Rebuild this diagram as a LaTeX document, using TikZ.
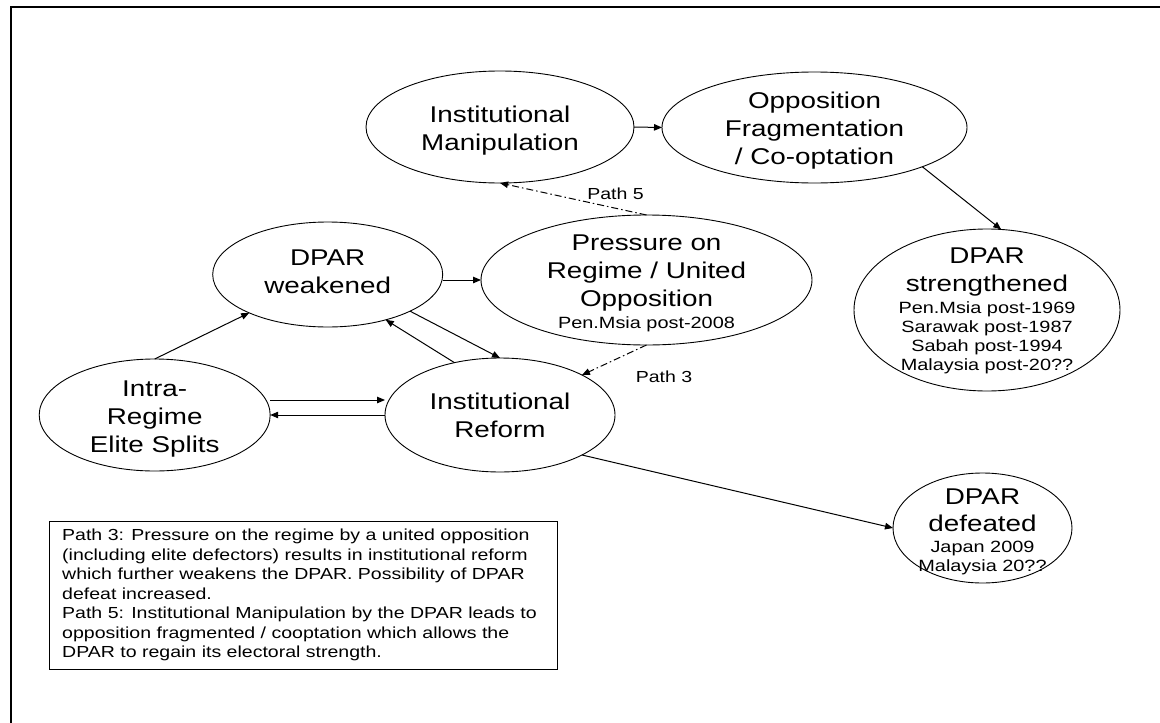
\documentclass[tikz,border=0pt]{standalone}
\usepackage{fontspec}
\setmainfont{Liberation Sans}
\usetikzlibrary{arrows.meta,shapes.geometric}
% horizontally widened lettering
\newcommand\sx[1]{\scalebox{1.22}[1]{#1}}
\newcommand\dgBig{\fontsize{22.8}{28}\selectfont}
\newcommand\dgSmall{\fontsize{16.3}{19}\selectfont}
\newcommand\dgNote{\fontsize{16}{19.5}\selectfont}
\begin{document}
\begin{tikzpicture}[x=1pt,y=-1pt,
  oval/.style={ellipse, draw, line width=0.9pt, inner sep=0pt, outer sep=0pt},
  ovaltext/.style={align=center, font=\dgBig, inner sep=0pt},
  arr/.style={line width=1pt, -{Triangle[length=8pt,width=6.5pt]}},
  patharr/.style={arr, dash pattern=on 7pt off 3pt on 1.5pt off 3pt},
  lab/.style={font=\dgNote, inner sep=0pt}]
\useasboundingbox (0,0) rectangle (1160,723);
% outer frame (only top and left edges fall inside the page)
\draw[line width=2.2pt] (11,740) -- (11,7) -- (1175,7);

% ellipses
\node[oval, minimum width=268pt, minimum height=112pt] (manip)  at (500,127)   {};
\node[oval, minimum width=305pt, minimum height=111pt] (opp)    at (814.5,127.5) {};
\node[oval, minimum width=230pt, minimum height=105pt] (dpar)   at (327.7,274.5) {};
\node[oval, minimum width=331pt, minimum height=130pt] (press)  at (646.5,280) {};
\node[oval, minimum width=266pt, minimum height=162pt] (strong) at (987,310)   {};
\node[oval, minimum width=231pt, minimum height=112pt] (intra)  at (154.7,415) {};
\node[oval, minimum width=230pt, minimum height=114pt] (reform) at (500,415)   {};
\node[oval, minimum width=179pt, minimum height=110pt] (defeat) at (982.5,528) {};

% ellipse texts
\node[ovaltext] (manipT) at (500,130.7) {\sx{Institutional}\\\sx{Manipulation}};
\node[ovaltext] (oppT) at (814.5,131) {\sx{Opposition}\\\sx{Fragmentation}\\\sx{/ Co-optation}};
\node[ovaltext] (dparT) at (327.7,271.8) {\sx{DPAR}\\\sx{weakened}};
\node[ovaltext] (pressT) at (646.5,283.4) {\sx{Pressure on}\\\sx{Regime / United}\\\sx{Opposition}\\[-6pt]\sx{\dgSmall Pen.Msia post-2008}};
\node[ovaltext] (strongT) at (987,311) {\sx{DPAR}\\\sx{strengthened}\\[-6pt]\sx{\dgSmall Pen.Msia post-1969}\\[-9pt]\sx{\dgSmall Sarawak post-1987}\\[-9pt]\sx{\dgSmall Sabah post-1994}\\[-9pt]\sx{\dgSmall Malaysia post-20??}};
\node[ovaltext] (intraT) at (154.7,419) {\sx{Intra-}\\\sx{Regime}\\\sx{Elite Splits}};
\node[ovaltext] (reformT) at (500,415.7) {\sx{Institutional}\\\sx{Reform}};
\node[ovaltext] (defeatT) at (982.5,531.9) {\sx{DPAR}\\[-1pt]\sx{defeated}\\[-7pt]\sx{\dgSmall Japan 2009}\\[-9pt]\sx{\dgSmall Malaysia 20??}};

% connectors
\draw[arr] (manip.east) -- (opp.west);
\draw[arr] (opp.-20) -- (strong.80);
\draw[arr] (dpar.east |- press.west) -- (press.west);
\draw[arr] (intra.north) -- (dpar);
\draw[arr] ([yshift=15pt]intra.east) -- ([yshift=15pt]reform.west);
\draw[arr] (reform.west) -- (intra.east);
\draw[arr] (dpar.-24) -- (reform.north);
\draw[arr] (reform.131) -- (dpar.-38);
\draw[arr] (reform.-26) -- (defeat.west);
\draw[patharr] (press.south) -- (reform.26);
\draw[patharr] (press.north) -- (manip.south);
\node[lab] (p3) at (664,377) {\sx{Path 3}};
\node[lab] (p5) at (615.5,194) {\sx{Path 5}};

% explanatory note
\node[draw, line width=1.1pt, anchor=north west, minimum width=508pt, minimum height=148pt, inner sep=0pt] (notebox) at (49,521) {};
\node[anchor=north west, align=left, font=\dgNote, inner sep=0pt] (notetext) at (62,529) {%
\sx{Path 3: Pressure on the regime by a united opposition}\\
\sx{(including elite defectors) results in institutional reform}\\
\sx{which further weakens the DPAR. Possibility of DPAR}\\
\sx{defeat increased.}\\
\sx{Path 5: Institutional Manipulation by the DPAR leads to}\\
\sx{opposition fragmented / cooptation which allows the}\\
\sx{DPAR to regain its electoral strength.}};
\end{tikzpicture}
\end{document}
